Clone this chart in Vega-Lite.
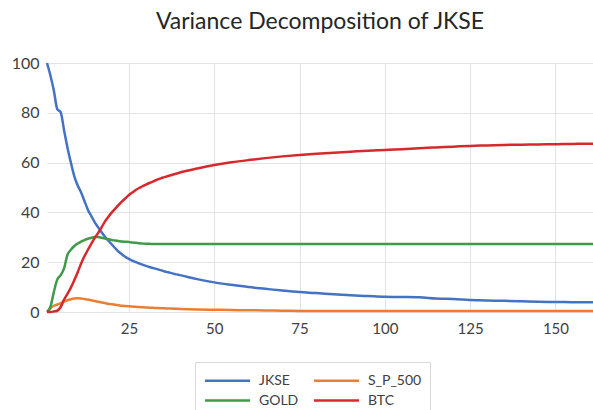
{
  "$schema": "https://vega.github.io/schema/vega-lite/v6.json",
  "width": 546,
  "height": 249,
  "autosize": {"type": "none"},
  "padding": {"left": 47, "top": 63, "right": 0, "bottom": 98},
  "background": "white",
  "config": {"view": {"stroke": null}, "font": "Lato"},
  "title": {
    "text": "Variance Decomposition of JKSE",
    "anchor": "middle",
    "frame": "group",
    "font": "Lato",
    "fontSize": 23,
    "fontWeight": "normal",
    "color": "#262626",
    "offset": 21
  },
  "data": {"values": [
    {"period":1,"series":"JKSE","value":100},{"period":2,"series":"JKSE","value":95},{"period":3,"series":"JKSE","value":89},{"period":4,"series":"JKSE","value":81.5},{"period":5,"series":"JKSE","value":80.3},{"period":6,"series":"JKSE","value":73},{"period":7,"series":"JKSE","value":66},{"period":8,"series":"JKSE","value":60},{"period":9,"series":"JKSE","value":54.5},{"period":10,"series":"JKSE","value":50.8},
    {"period":11,"series":"JKSE","value":48},{"period":12,"series":"JKSE","value":44.5},{"period":13,"series":"JKSE","value":41},{"period":14,"series":"JKSE","value":38.5},{"period":15,"series":"JKSE","value":36},{"period":16,"series":"JKSE","value":34},{"period":17,"series":"JKSE","value":32},{"period":18,"series":"JKSE","value":30.2},{"period":19,"series":"JKSE","value":28.6},{"period":20,"series":"JKSE","value":27.1},
    {"period":21,"series":"JKSE","value":25.6},{"period":22,"series":"JKSE","value":24.2},{"period":23,"series":"JKSE","value":23.1},{"period":24,"series":"JKSE","value":22.1},{"period":25,"series":"JKSE","value":21.3},{"period":26,"series":"JKSE","value":20.6},{"period":27,"series":"JKSE","value":20},{"period":28,"series":"JKSE","value":19.5},{"period":29,"series":"JKSE","value":19},{"period":30,"series":"JKSE","value":18.5},
    {"period":31,"series":"JKSE","value":18.1},{"period":32,"series":"JKSE","value":17.7},{"period":33,"series":"JKSE","value":17.3},{"period":34,"series":"JKSE","value":16.9},{"period":35,"series":"JKSE","value":16.5},{"period":36,"series":"JKSE","value":16.1},{"period":37,"series":"JKSE","value":15.8},{"period":38,"series":"JKSE","value":15.4},{"period":39,"series":"JKSE","value":15.1},{"period":40,"series":"JKSE","value":14.8},
    {"period":45,"series":"JKSE","value":13.2},{"period":50,"series":"JKSE","value":11.9},{"period":55,"series":"JKSE","value":10.9},{"period":60,"series":"JKSE","value":10},{"period":65,"series":"JKSE","value":9.3},{"period":70,"series":"JKSE","value":8.6},{"period":75,"series":"JKSE","value":8},{"period":80,"series":"JKSE","value":7.6},{"period":85,"series":"JKSE","value":7.1},{"period":90,"series":"JKSE","value":6.7},
    {"period":95,"series":"JKSE","value":6.4},{"period":100,"series":"JKSE","value":6.1},{"period":105,"series":"JKSE","value":6},{"period":110,"series":"JKSE","value":5.9},{"period":115,"series":"JKSE","value":5.4},{"period":120,"series":"JKSE","value":5.2},{"period":125,"series":"JKSE","value":4.8},{"period":130,"series":"JKSE","value":4.6},{"period":135,"series":"JKSE","value":4.5},{"period":140,"series":"JKSE","value":4.3},
    {"period":145,"series":"JKSE","value":4.1},{"period":150,"series":"JKSE","value":4},{"period":155,"series":"JKSE","value":3.95},{"period":160,"series":"JKSE","value":3.9},{"period":161,"series":"JKSE","value":3.9},

    {"period":1,"series":"S_P_500","value":0},{"period":2,"series":"S_P_500","value":1.5},{"period":3,"series":"S_P_500","value":2.5},{"period":4,"series":"S_P_500","value":3},{"period":5,"series":"S_P_500","value":3.5},{"period":6,"series":"S_P_500","value":4.2},{"period":7,"series":"S_P_500","value":4.7},{"period":8,"series":"S_P_500","value":5.1},{"period":9,"series":"S_P_500","value":5.4},{"period":10,"series":"S_P_500","value":5.5},
    {"period":11,"series":"S_P_500","value":5.4},{"period":12,"series":"S_P_500","value":5.2},{"period":13,"series":"S_P_500","value":5},{"period":14,"series":"S_P_500","value":4.7},{"period":15,"series":"S_P_500","value":4.4},{"period":16,"series":"S_P_500","value":4.1},{"period":17,"series":"S_P_500","value":3.8},{"period":18,"series":"S_P_500","value":3.6},{"period":19,"series":"S_P_500","value":3.3},{"period":20,"series":"S_P_500","value":3.1},
    {"period":21,"series":"S_P_500","value":2.9},{"period":22,"series":"S_P_500","value":2.7},{"period":23,"series":"S_P_500","value":2.5},{"period":24,"series":"S_P_500","value":2.4},{"period":25,"series":"S_P_500","value":2.3},{"period":26,"series":"S_P_500","value":2.2},{"period":27,"series":"S_P_500","value":2.1},{"period":28,"series":"S_P_500","value":2},{"period":29,"series":"S_P_500","value":1.9},{"period":30,"series":"S_P_500","value":1.8},
    {"period":31,"series":"S_P_500","value":1.75},{"period":32,"series":"S_P_500","value":1.7},{"period":33,"series":"S_P_500","value":1.6},{"period":34,"series":"S_P_500","value":1.55},{"period":35,"series":"S_P_500","value":1.5},{"period":36,"series":"S_P_500","value":1.45},{"period":37,"series":"S_P_500","value":1.4},{"period":38,"series":"S_P_500","value":1.35},{"period":39,"series":"S_P_500","value":1.3},{"period":40,"series":"S_P_500","value":1.25},
    {"period":45,"series":"S_P_500","value":1.05},{"period":50,"series":"S_P_500","value":0.9},{"period":55,"series":"S_P_500","value":0.8},{"period":60,"series":"S_P_500","value":0.7},{"period":65,"series":"S_P_500","value":0.6},{"period":70,"series":"S_P_500","value":0.55},{"period":75,"series":"S_P_500","value":0.45},{"period":80,"series":"S_P_500","value":0.4},{"period":85,"series":"S_P_500","value":0.4},{"period":90,"series":"S_P_500","value":0.4},
    {"period":95,"series":"S_P_500","value":0.4},{"period":100,"series":"S_P_500","value":0.4},{"period":105,"series":"S_P_500","value":0.4},{"period":110,"series":"S_P_500","value":0.4},{"period":115,"series":"S_P_500","value":0.4},{"period":120,"series":"S_P_500","value":0.4},{"period":125,"series":"S_P_500","value":0.4},{"period":130,"series":"S_P_500","value":0.4},{"period":135,"series":"S_P_500","value":0.4},{"period":140,"series":"S_P_500","value":0.4},
    {"period":145,"series":"S_P_500","value":0.4},{"period":150,"series":"S_P_500","value":0.4},{"period":155,"series":"S_P_500","value":0.4},{"period":160,"series":"S_P_500","value":0.4},{"period":161,"series":"S_P_500","value":0.4},

    {"period":1,"series":"GOLD","value":0},{"period":2,"series":"GOLD","value":2},{"period":3,"series":"GOLD","value":8},{"period":4,"series":"GOLD","value":13},{"period":5,"series":"GOLD","value":14.8},{"period":6,"series":"GOLD","value":17.5},{"period":7,"series":"GOLD","value":23},{"period":8,"series":"GOLD","value":25},{"period":9,"series":"GOLD","value":26.5},{"period":10,"series":"GOLD","value":27.5},
    {"period":11,"series":"GOLD","value":28.3},{"period":12,"series":"GOLD","value":28.9},{"period":13,"series":"GOLD","value":29.4},{"period":14,"series":"GOLD","value":29.8},{"period":15,"series":"GOLD","value":30.1},{"period":16,"series":"GOLD","value":30.1},{"period":17,"series":"GOLD","value":29.8},{"period":18,"series":"GOLD","value":29.5},{"period":19,"series":"GOLD","value":29.2},{"period":20,"series":"GOLD","value":28.9},
    {"period":21,"series":"GOLD","value":28.7},{"period":22,"series":"GOLD","value":28.5},{"period":23,"series":"GOLD","value":28.3},{"period":24,"series":"GOLD","value":28.2},{"period":25,"series":"GOLD","value":28.1},{"period":26,"series":"GOLD","value":27.9},{"period":27,"series":"GOLD","value":27.8},{"period":28,"series":"GOLD","value":27.6},{"period":29,"series":"GOLD","value":27.5},{"period":30,"series":"GOLD","value":27.4},
    {"period":31,"series":"GOLD","value":27.4},{"period":32,"series":"GOLD","value":27.3},{"period":33,"series":"GOLD","value":27.3},{"period":34,"series":"GOLD","value":27.3},{"period":35,"series":"GOLD","value":27.3},{"period":36,"series":"GOLD","value":27.3},{"period":37,"series":"GOLD","value":27.3},{"period":38,"series":"GOLD","value":27.3},{"period":39,"series":"GOLD","value":27.3},{"period":40,"series":"GOLD","value":27.3},
    {"period":45,"series":"GOLD","value":27.3},{"period":50,"series":"GOLD","value":27.3},{"period":55,"series":"GOLD","value":27.3},{"period":60,"series":"GOLD","value":27.3},{"period":65,"series":"GOLD","value":27.3},{"period":70,"series":"GOLD","value":27.3},{"period":75,"series":"GOLD","value":27.3},{"period":80,"series":"GOLD","value":27.3},{"period":85,"series":"GOLD","value":27.3},{"period":90,"series":"GOLD","value":27.3},
    {"period":95,"series":"GOLD","value":27.3},{"period":100,"series":"GOLD","value":27.3},{"period":105,"series":"GOLD","value":27.3},{"period":110,"series":"GOLD","value":27.3},{"period":115,"series":"GOLD","value":27.3},{"period":120,"series":"GOLD","value":27.3},{"period":125,"series":"GOLD","value":27.3},{"period":130,"series":"GOLD","value":27.3},{"period":135,"series":"GOLD","value":27.3},{"period":140,"series":"GOLD","value":27.3},
    {"period":145,"series":"GOLD","value":27.3},{"period":150,"series":"GOLD","value":27.3},{"period":155,"series":"GOLD","value":27.3},{"period":160,"series":"GOLD","value":27.3},{"period":161,"series":"GOLD","value":27.3},

    {"period":1,"series":"BTC","value":0},{"period":2,"series":"BTC","value":0},{"period":3,"series":"BTC","value":0.2},{"period":4,"series":"BTC","value":0.5},{"period":5,"series":"BTC","value":2},{"period":6,"series":"BTC","value":5},{"period":7,"series":"BTC","value":7.3},{"period":8,"series":"BTC","value":9.8},{"period":9,"series":"BTC","value":12.8},{"period":10,"series":"BTC","value":16},
    {"period":11,"series":"BTC","value":19.5},{"period":12,"series":"BTC","value":22.5},{"period":13,"series":"BTC","value":25},{"period":14,"series":"BTC","value":27.5},{"period":15,"series":"BTC","value":29.8},{"period":16,"series":"BTC","value":31.8},{"period":17,"series":"BTC","value":34},{"period":18,"series":"BTC","value":36.4},{"period":19,"series":"BTC","value":38.3},{"period":20,"series":"BTC","value":40},
    {"period":21,"series":"BTC","value":41.5},{"period":22,"series":"BTC","value":43},{"period":23,"series":"BTC","value":44.4},{"period":24,"series":"BTC","value":45.7},{"period":25,"series":"BTC","value":47},{"period":26,"series":"BTC","value":48},{"period":27,"series":"BTC","value":49},{"period":28,"series":"BTC","value":49.8},{"period":29,"series":"BTC","value":50.5},{"period":30,"series":"BTC","value":51.2},
    {"period":31,"series":"BTC","value":51.8},{"period":32,"series":"BTC","value":52.4},{"period":33,"series":"BTC","value":53},{"period":34,"series":"BTC","value":53.5},{"period":35,"series":"BTC","value":54},{"period":36,"series":"BTC","value":54.4},{"period":37,"series":"BTC","value":54.8},{"period":38,"series":"BTC","value":55.2},{"period":39,"series":"BTC","value":55.6},{"period":40,"series":"BTC","value":56},
    {"period":45,"series":"BTC","value":57.6},{"period":50,"series":"BTC","value":59},{"period":55,"series":"BTC","value":60.1},{"period":60,"series":"BTC","value":61},{"period":65,"series":"BTC","value":61.8},{"period":70,"series":"BTC","value":62.5},{"period":75,"series":"BTC","value":63.1},{"period":80,"series":"BTC","value":63.6},{"period":85,"series":"BTC","value":64},{"period":90,"series":"BTC","value":64.4},
    {"period":95,"series":"BTC","value":64.8},{"period":100,"series":"BTC","value":65.1},{"period":105,"series":"BTC","value":65.4},{"period":110,"series":"BTC","value":65.8},{"period":115,"series":"BTC","value":66.1},{"period":120,"series":"BTC","value":66.4},{"period":125,"series":"BTC","value":66.7},{"period":130,"series":"BTC","value":66.9},{"period":135,"series":"BTC","value":67.1},{"period":140,"series":"BTC","value":67.2},
    {"period":145,"series":"BTC","value":67.3},{"period":150,"series":"BTC","value":67.4},{"period":155,"series":"BTC","value":67.5},{"period":160,"series":"BTC","value":67.6},{"period":161,"series":"BTC","value":67.6}
  ]},
  "mark": {"type": "line", "strokeWidth": 2.5, "interpolate": "monotone"},
  "encoding": {
    "x": {
      "field": "period", "type": "quantitative",
      "scale": {"domain": [1, 161], "nice": false, "zero": false},
      "axis": {
        "title": null, "values": [25, 50, 75, 100, 125, 150],
        "grid": true, "gridColor": "#e3e3e3", "gridWidth": 1,
        "domain": false, "ticks": false,
        "labelFont": "Lato", "labelFontSize": 15, "labelColor": "#404040", "labelPadding": 9
      }
    },
    "y": {
      "field": "value", "type": "quantitative",
      "scale": {"domain": [0, 100], "nice": false},
      "axis": {
        "title": null, "values": [0, 20, 40, 60, 80, 100],
        "grid": true, "gridColor": "#e3e3e3", "gridWidth": 1,
        "domain": false, "ticks": false,
        "labelFont": "Lato", "labelFontSize": 16, "labelColor": "#404040", "labelPadding": 8
      }
    },
    "color": {
      "field": "series", "type": "nominal",
      "scale": {"domain": ["JKSE", "S_P_500", "GOLD", "BTC"], "range": ["#4472C4", "#ED7D31", "#3F9B4A", "#D8282C"]},
      "legend": {
        "title": null, "orient": "none", "legendX": 148, "legendY": 299,
        "columns": 2, "direction": "horizontal",
        "symbolType": "M-2.5,0H2.5", "symbolSize": 324, "symbolStrokeWidth": 2.5,
        "symbolOffset": 14, "labelOffset": 21,
        "labelFont": "Lato", "labelFontSize": 14, "labelColor": "#404040",
        "strokeColor": "#d9d9d9", "padding": 8, "columnPadding": 10, "rowPadding": 2
      }
    }
  }
}
